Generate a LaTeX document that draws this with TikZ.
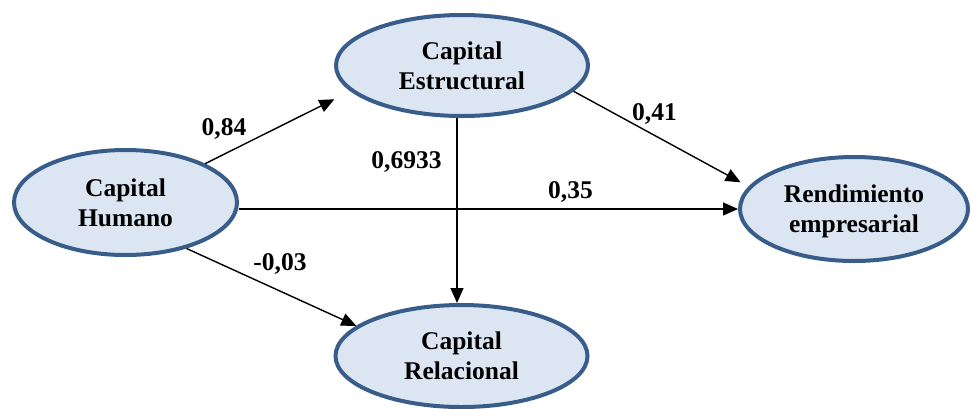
\documentclass[tikz,border=0pt]{standalone}
\usepackage{fontspec}
\setmainfont{Liberation Serif}
\usetikzlibrary{shapes.geometric,arrows.meta}
\definecolor{ellfill}{HTML}{DCE6F2}
\definecolor{elldraw}{HTML}{385D8A}
\begin{document}
\begin{tikzpicture}[x=1pt,y=-1pt,
  latent/.style={ellipse,draw=elldraw,fill=ellfill,line width=4pt,inner sep=0pt,
    align=center,text depth=0pt,font=\fontsize{25.5}{30}\selectfont\bfseries},
  path/.style={line width=1.4pt,-{Triangle[length=15pt,width=13pt]}},
  coef/.style={anchor=base,inner sep=0pt,font=\fontsize{25.5}{30}\selectfont\bfseries}]
\useasboundingbox (0,0) rectangle (971,408);
\node[latent,minimum width=223pt,minimum height=105pt] (hum) at (125.5,202.5) {Capital\\Humano};
\node[latent,minimum width=252pt,minimum height=101pt] (est) at (462,65.5) {Capital\\Estructural};
\node[latent,minimum width=252pt,minimum height=102pt] (rel) at (461.5,356) {Capital\\Relacional};
\node[latent,minimum width=228pt,minimum height=104pt] (rend) at (854,209) {Rendimiento\\empresarial};
\draw[path,shorten >=18pt] (hum.26) -- (est.193);
\draw[path] (hum.east |- rend.west) -- (rend.west);
\draw[path,shorten >=9pt] (est.-13) -- (rend.168);
\draw[path] ([xshift=-5pt]est.south) -- ([xshift=-4.5pt]rel.north);
\draw[path] (hum.-37) -- (rel.164.5);
\node[coef] (c1) at (224,135) {0,84};
\node[coef] (c2) at (406.5,168) {0,6933};
\node[coef] (c3) at (654.5,120) {0,41};
\node[coef] (c4) at (570.5,198) {0,35};
\node[coef] (c5) at (280,270) {-0,03};
\end{tikzpicture}
\end{document}
